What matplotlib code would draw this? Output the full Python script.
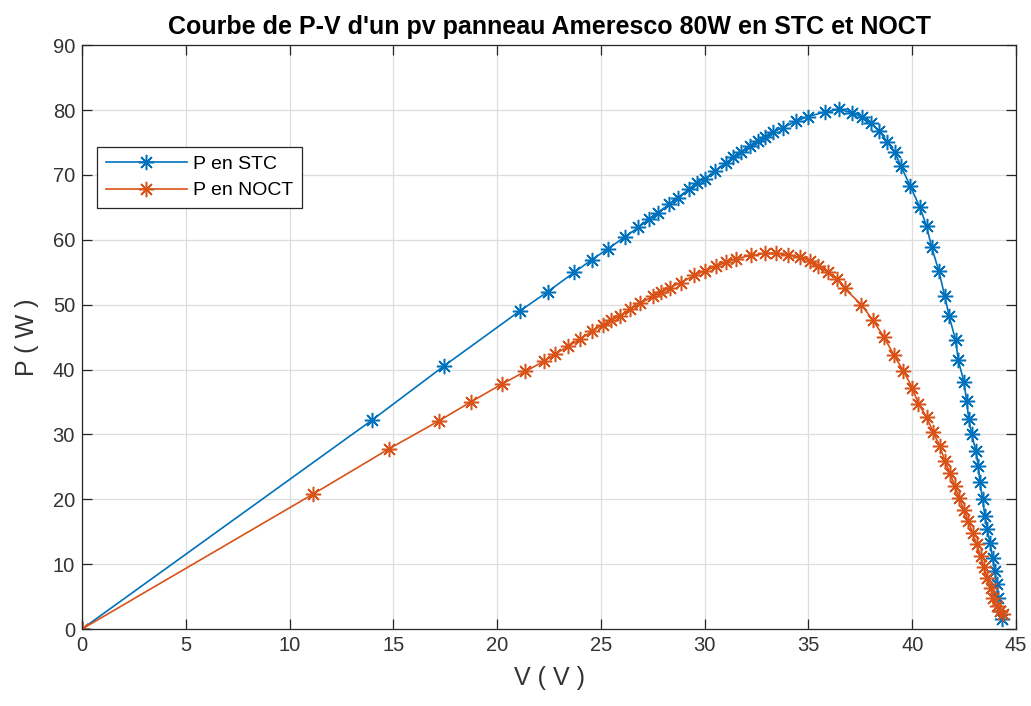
import matplotlib
matplotlib.use('Agg')
import matplotlib.pyplot as plt

plt.rcParams['font.family'] = ['Liberation Sans', 'DejaVu Sans']

# Courbe P-V en STC (tension en V, puissance en W)
v_stc = [0.0, 13.97, 17.46, 21.08, 22.44, 23.72, 24.55, 25.33, 26.18, 26.8,
         27.32, 27.75, 28.3, 28.7, 29.25, 29.62, 30.0, 30.48, 31.04, 31.36,
         31.77, 32.17, 32.57, 32.89, 33.29, 33.77, 34.42, 34.98, 35.78, 36.47,
         37.1, 37.6, 38.0, 38.4, 38.8, 39.16, 39.45, 39.9, 40.37, 40.69,
         40.93, 41.28, 41.56, 41.77, 42.09, 42.22, 42.49, 42.62, 42.72, 42.86,
         43.07, 43.18, 43.26, 43.39, 43.5, 43.61, 43.74, 43.87, 43.98, 44.06,
         44.14, 44.22, 44.3]
p_stc = [0.0, 32.2, 40.6, 49.0, 52.0, 55.0, 56.9, 58.6, 60.5, 61.9,
         63.2, 64.2, 65.5, 66.5, 67.8, 68.7, 69.4, 70.6, 71.9, 72.7,
         73.5, 74.5, 75.2, 75.9, 76.6, 77.3, 78.3, 79.0, 79.7, 80.1,
         79.6, 78.9, 78.0, 76.8, 75.1, 73.5, 71.4, 68.3, 65.0, 62.1,
         58.9, 55.2, 51.4, 48.3, 44.5, 41.4, 38.1, 35.1, 32.4, 30.0,
         27.4, 25.1, 22.6, 20.0, 17.4, 15.4, 13.3, 11.0, 8.9, 6.9,
         4.8, 2.8, 1.5]

# Courbe P-V en NOCT
v_noct = [0.0, 11.13, 14.8, 17.2, 18.73, 20.25, 21.35, 22.27, 22.8, 23.43,
          24.0, 24.58, 25.08, 25.5, 25.93, 26.4, 26.9, 27.5, 27.91, 28.31,
          28.85, 29.5, 30.0, 30.56, 31.04, 31.52, 32.25, 32.89, 33.45, 34.01,
          34.58, 35.06, 35.46, 35.94, 36.37, 36.74, 37.55, 38.1, 38.64, 39.12,
          39.57, 40.0, 40.3, 40.69, 41.01, 41.33, 41.57, 41.81, 42.06, 42.26,
          42.49, 42.7, 42.91, 43.1, 43.29, 43.45, 43.61, 43.77, 43.9, 44.06,
          44.22, 44.38]
p_noct = [0.0, 20.8, 27.8, 32.1, 35.0, 37.8, 39.7, 41.3, 42.4, 43.6,
          44.7, 45.9, 46.9, 47.6, 48.3, 49.3, 50.2, 51.3, 51.9, 52.6,
          53.4, 54.5, 55.2, 55.9, 56.6, 57.1, 57.6, 57.9, 57.9, 57.7,
          57.3, 56.8, 56.0, 55.0, 54.0, 52.5, 50.0, 47.6, 45.0, 42.2,
          39.8, 37.2, 34.7, 32.7, 30.3, 28.2, 25.9, 24.1, 22.0, 20.2,
          18.4, 16.6, 14.8, 13.1, 11.3, 9.5, 7.9, 6.4, 4.8, 3.5,
          2.8, 2.3]

labels = ['P en STC', 'P en NOCT']
colors = ['#0072BD', '#D95319']
asterisk = (8, 2, 0)   # '*' style MATLAB (+ et x superposés)

fig = plt.figure(figsize=(10.31, 7.06), dpi=100)
ax = fig.add_axes([0.0795, 0.109, 0.906, 0.827])

ax.plot(v_stc, p_stc, '-', marker=asterisk, color=colors[0], linewidth=1.2,
        markersize=11, markeredgewidth=1.1, label=labels[0])
ax.plot(v_noct, p_noct, '-', marker=asterisk, color=colors[1], linewidth=1.2,
        markersize=11, markeredgewidth=1.1, label=labels[1])

ax.set_xlim(0, 45)
ax.set_ylim(0, 90)
ax.set_xticks(range(0, 46, 5))
ax.set_yticks(range(0, 91, 10))
ax.tick_params(direction='in', top=True, right=True, labelsize=14.5,
               colors='#262626', labelcolor='#333333', length=7, width=0.9,
               pad=5)
ax.grid(True, color='#dedede', linewidth=0.9)
ax.set_axisbelow(True)
for s in ax.spines.values():
    s.set_color('#262626')
    s.set_linewidth(0.9)

ax.set_title("Courbe de P-V d'un pv panneau Ameresco 80W en STC et NOCT",
             fontsize=18, fontweight='bold', pad=8)
ax.set_xlabel('V ( V )', fontsize=18, color='#333333', labelpad=8)
ax.set_ylabel('P ( W )', fontsize=18, color='#333333', labelpad=10)

leg = ax.legend(loc='upper left', bbox_to_anchor=(0.016, 0.826), fontsize=14,
                handlelength=4.2, fancybox=False, edgecolor='#262626',
                framealpha=1, borderpad=0.45, labelspacing=0.45,
                handletextpad=0.3, borderaxespad=0)
leg.get_frame().set_linewidth(0.9)

fig.savefig('out.png', dpi=100)
